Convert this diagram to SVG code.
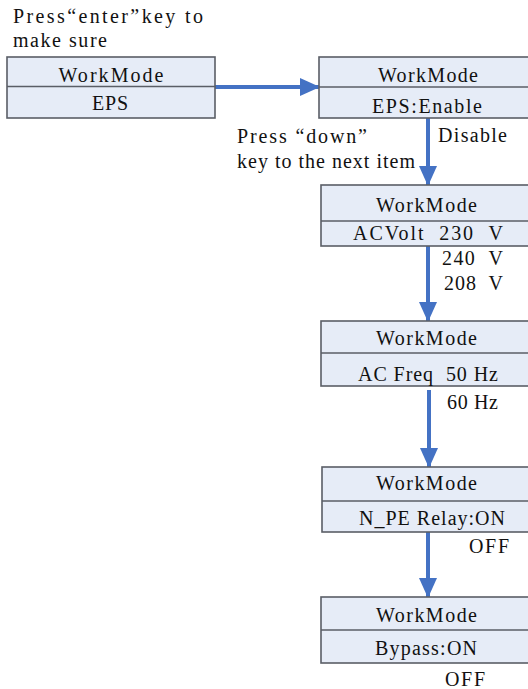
<svg xmlns="http://www.w3.org/2000/svg" width="528" height="689" viewBox="0 0 528 689">
<defs>
<marker id="ah" markerUnits="userSpaceOnUse" markerWidth="20" markerHeight="18" refX="19" refY="9" orient="auto">
<path d="M0,0 L20,9 L0,18 Z" fill="#4472C4"/>
</marker>
<style>
.box{fill:#E6ECF7;stroke:#5A5E66;stroke-width:1.6}
.div{stroke:#5A5E66;stroke-width:1.6}
text{font-family:"Liberation Serif","Times New Roman",serif;font-size:20px;fill:#111}
.c{text-anchor:middle}
.conn{stroke:#4472C4;stroke-width:4;fill:none;marker-end:url(#ah)}
</style>
</defs>
<rect width="528" height="689" fill="#fff"/>
<text x="13" y="23" textLength="190" lengthAdjust="spacing">Press“enter”key to</text>
<text x="13" y="47" textLength="94" lengthAdjust="spacing">make sure</text>
<text x="237" y="143" textLength="130" lengthAdjust="spacing">Press “down”</text>
<text x="237" y="168" textLength="178" lengthAdjust="spacing">key to the next item</text>
<g id="connectors">
<line class="conn" x1="215" y1="87" x2="319" y2="87"/>
<line class="conn" x1="428" y1="118" x2="428" y2="185"/>
<line class="conn" x1="428" y1="246" x2="428" y2="321"/>
<line class="conn" x1="429" y1="390" x2="429" y2="467"/>
<line class="conn" x1="428" y1="532" x2="428" y2="597"/>
</g>
<g id="node1">
<rect class="box" x="7" y="57" width="208" height="61"/>
<line class="div" x1="7" y1="86.5" x2="215" y2="86.5"/>
<text class="c" x="111" y="82" textLength="105" lengthAdjust="spacing">WorkMode</text>
<text class="c" x="110" y="110" textLength="36" lengthAdjust="spacing">EPS</text>
</g>
<g id="node2">
<rect class="box" x="319" y="57" width="220" height="61"/>
<line class="div" x1="319" y1="87" x2="539" y2="87"/>
<text class="c" x="428" y="82" textLength="100" lengthAdjust="spacing">WorkMode</text>
<text x="372" y="113" textLength="110" lengthAdjust="spacing">EPS:Enable</text>
<text x="438" y="142" textLength="69" lengthAdjust="spacing">Disable</text>
</g>
<g id="node3">
<rect class="box" x="321" y="185" width="218" height="61"/>
<line class="div" x1="321" y1="221" x2="539" y2="221"/>
<text class="c" x="426.5" y="212" textLength="101" lengthAdjust="spacing">WorkMode</text>
<text x="353" y="240" xml:space="preserve" textLength="150" lengthAdjust="spacing">ACVolt  230  V</text>
<text x="442" y="265" xml:space="preserve" textLength="61" lengthAdjust="spacing">240  V</text>
<text x="444" y="290" xml:space="preserve" textLength="59" lengthAdjust="spacing">208  V</text>
</g>
<g id="node4">
<rect class="box" x="321" y="321" width="218" height="65"/>
<line class="div" x1="321" y1="353" x2="539" y2="353"/>
<text class="c" x="426.5" y="345" textLength="101" lengthAdjust="spacing">WorkMode</text>
<text x="358" y="381" xml:space="preserve" textLength="140" lengthAdjust="spacing">AC Freq  50 Hz</text>
<text x="447" y="409" textLength="51" lengthAdjust="spacing">60 Hz</text>
</g>
<g id="node5">
<rect class="box" x="322" y="467" width="217" height="65"/>
<line class="div" x1="322" y1="501" x2="539" y2="501"/>
<text class="c" x="426.5" y="490" textLength="101" lengthAdjust="spacing">WorkMode</text>
<text x="359" y="525" textLength="146" lengthAdjust="spacing">N_PE Relay:ON</text>
<text x="469" y="553" textLength="40" lengthAdjust="spacing">OFF</text>
</g>
<g id="node6">
<rect class="box" x="321" y="597" width="218" height="66"/>
<line class="div" x1="321" y1="630" x2="539" y2="630"/>
<text class="c" x="426.5" y="622" textLength="101" lengthAdjust="spacing">WorkMode</text>
<text x="375" y="655" textLength="102" lengthAdjust="spacing">Bypass:ON</text>
<text x="445" y="686" textLength="40" lengthAdjust="spacing">OFF</text>
</g>
</svg>
